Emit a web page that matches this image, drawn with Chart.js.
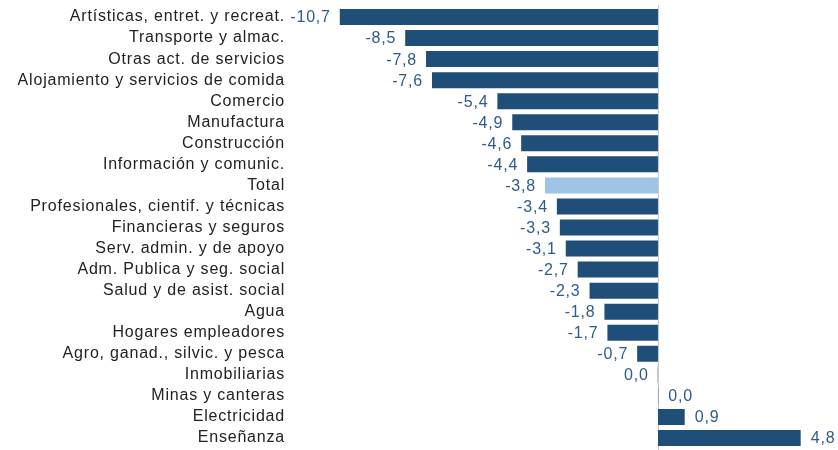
<!DOCTYPE html>
<html>
<head>
<meta charset="utf-8">
<script src="https://cdn.jsdelivr.net/npm/chart.js@4.4.1/dist/chart.umd.min.js"></script>
<style>
  body { margin: 0; background: #fff; }
  canvas { display: block; }
</style>
</head>
<body>
<canvas id="chart" width="838" height="450"></canvas>
<script>
var sectors = [
  'Artísticas, entret. y recreat.',
  'Transporte y almac.',
  'Otras act. de servicios',
  'Alojamiento y servicios de comida',
  'Comercio',
  'Manufactura',
  'Construcción',
  'Información y comunic.',
  'Total',
  'Profesionales, cientif. y técnicas',
  'Financieras y seguros',
  'Serv. admin. y de apoyo',
  'Adm. Publica y seg. social',
  'Salud y de asist. social',
  'Agua',
  'Hogares empleadores',
  'Agro, ganad., silvic. y pesca',
  'Inmobiliarias',
  'Minas y canteras',
  'Electricidad',
  'Enseñanza'
];
// variacion (%) - the two "0,0" rows sit on opposite sides of the axis in the source
var changes = [-10.7, -8.5, -7.8, -7.6, -5.4, -4.9, -4.6, -4.4, -3.8, -3.4, -3.3, -3.1, -2.7, -2.3, -1.8, -1.7, -0.7, -0.01, 0.01, 0.9, 4.8];

var darkBlue = '#1f4e79';
var lightBlue = '#9dc3e6';
var barColors = sectors.map(function(s) { return s === 'Total' ? lightBlue : darkBlue; });
var fontFamily = '"Liberation Sans", Arial, sans-serif';

function fmt(v) {
  var r = Math.round(v * 10) / 10;
  if (r === 0) r = 0;
  return r.toFixed(1).replace('.', ',');
}

// the source text is a bit wide, so spread letters slightly
var spacingPlugin = {
  id: 'spacing',
  beforeInit: function(chart) { chart.ctx.letterSpacing = '0.8px'; },
  beforeDraw: function(chart) { chart.ctx.letterSpacing = '0.8px'; }
};

// zero axis line + value labels at the bar ends
var labelPlugin = {
  id: 'barLabels',
  beforeDatasetsDraw: function(chart) {
    var ctx = chart.ctx;
    var x0 = chart.scales.x.getPixelForValue(0);
    ctx.save();
    ctx.strokeStyle = '#c8c8c8';
    ctx.lineWidth = 1;
    ctx.beginPath();
    ctx.moveTo(Math.round(x0) + 0.5, 5);
    ctx.lineTo(Math.round(x0) + 0.5, 450);
    ctx.stroke();
    ctx.restore();
  },
  afterDatasetsDraw: function(chart) {
    var ctx = chart.ctx;
    var meta = chart.getDatasetMeta(0);
    ctx.save();
    ctx.font = '16px ' + fontFamily;
    ctx.fillStyle = '#2f5b8a';
    ctx.textBaseline = 'middle';
    meta.data.forEach(function(bar, i) {
      var v = changes[i];
      if (v < 0) {
        ctx.textAlign = 'right';
        ctx.fillText(fmt(v), bar.x - 9, bar.y + 1);
      } else {
        ctx.textAlign = 'left';
        ctx.fillText(fmt(v), bar.x + 10, bar.y + 1);
      }
    });
    ctx.restore();
  }
};

var chart = new Chart(document.getElementById('chart'), {
  type: 'bar',
  data: {
    labels: sectors,
    datasets: [{
      data: changes,
      backgroundColor: barColors,
      borderWidth: 0,
      categoryPercentage: 1,
      barPercentage: 0.76
    }]
  },
  options: {
    indexAxis: 'y',
    responsive: false,
    animation: false,
    layout: { padding: { top: 6.5, bottom: 1.5, right: 16.5, left: 0 } },
    plugins: { legend: { display: false }, tooltip: { enabled: false } },
    scales: {
      x: {
        display: false,
        min: -11.5,
        max: 5.5
      },
      y: {
        grid: { display: true, drawOnChartArea: false, drawTicks: true, tickLength: 31, color: 'rgba(0,0,0,0)' },
        border: { display: false },
        ticks: {
          color: '#222',
          padding: 0,
          autoSkip: false,
          font: { family: fontFamily, size: 16, lineHeight: 0.17 }
        },
        afterFit: function(scale) { scale.width = 316; }
      }
    }
  },
  plugins: [spacingPlugin, labelPlugin]
});
</script>
</body>
</html>
